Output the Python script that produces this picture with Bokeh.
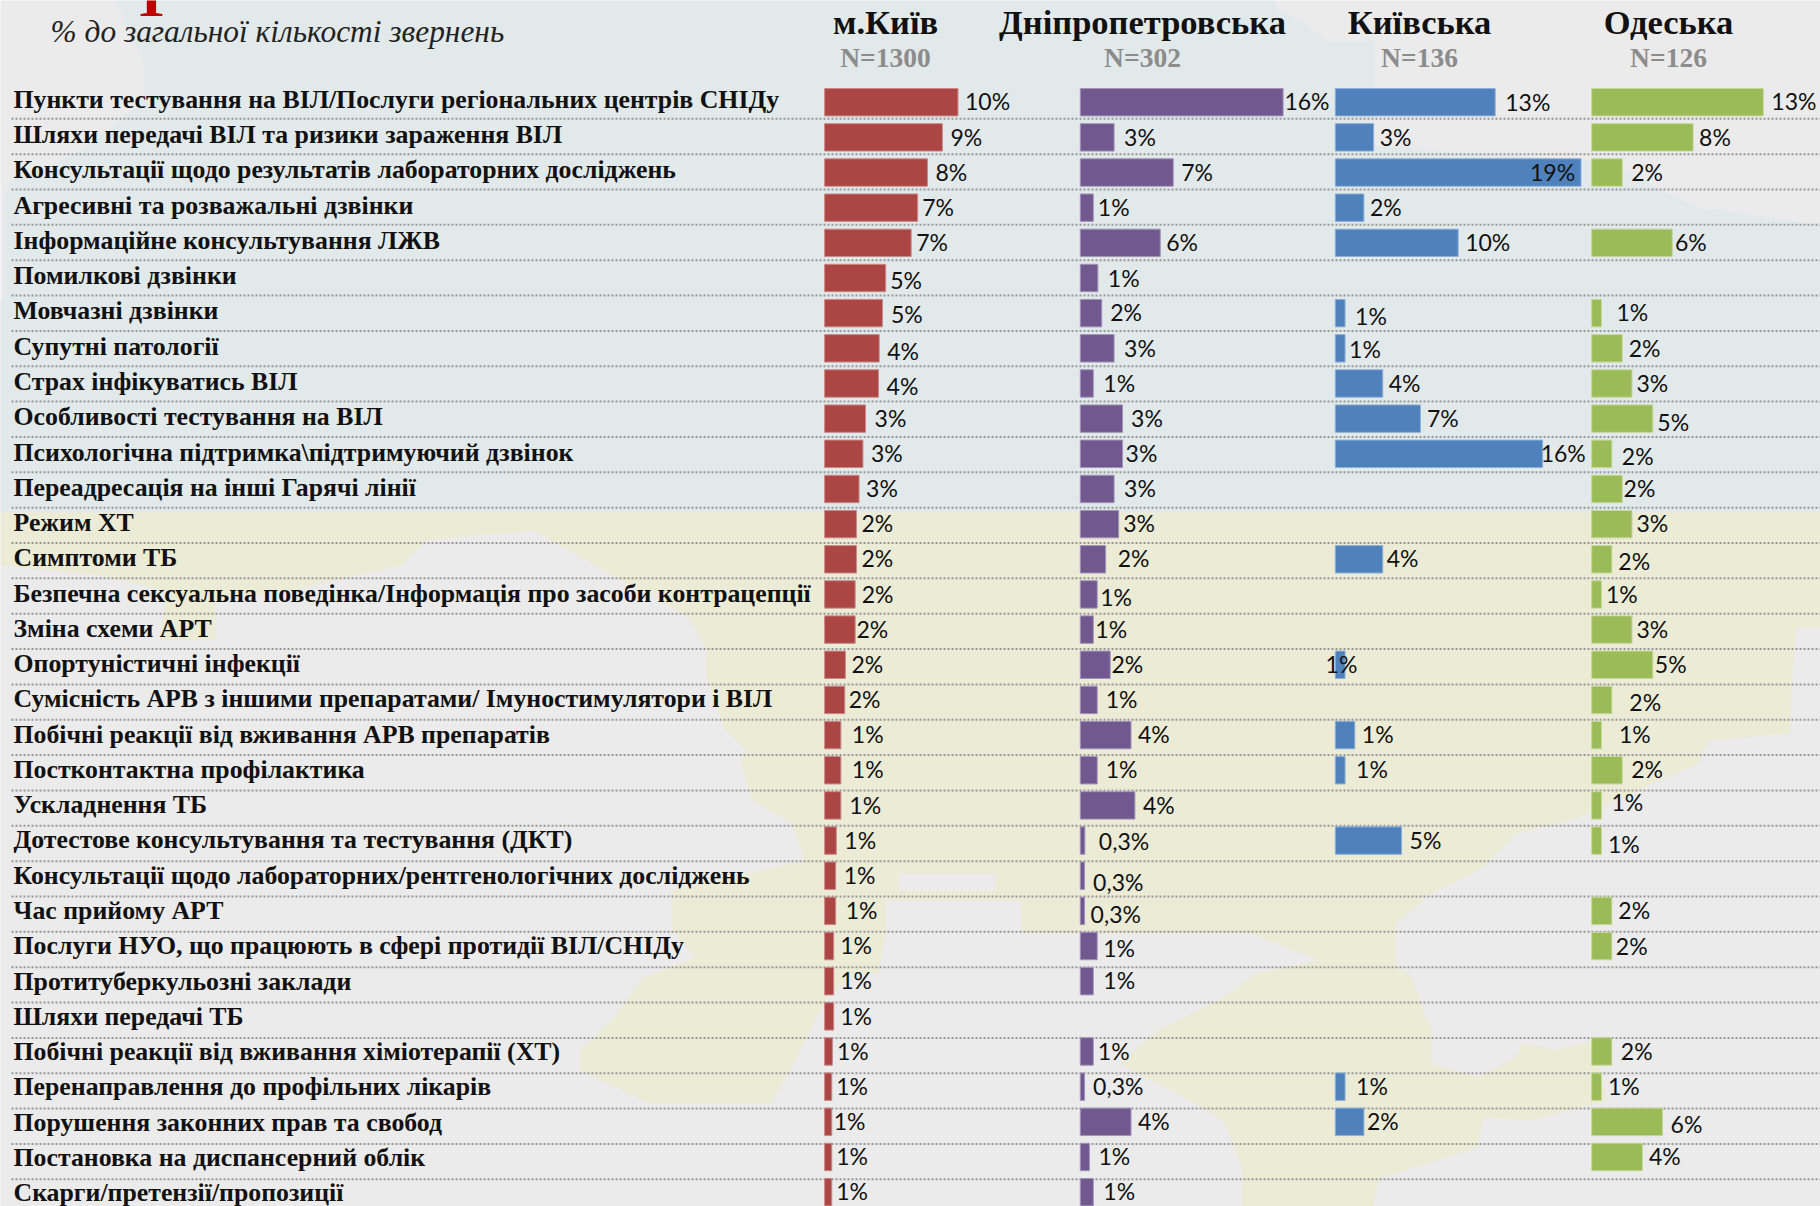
from bokeh.plotting import figure
from bokeh.models import Range1d, ColumnDataSource, LinearScale
from bokeh.core.properties import value
from bokeh.embed import file_html
from bokeh.resources import INLINE

topics = [
 "Пункти тестування на ВІЛ/Послуги регіональних центрів СНІДу","Шляхи передачі ВІЛ та ризики зараження ВІЛ",
 "Консультації щодо результатів лабораторних досліджень","Агресивні та розважальні дзвінки",
 "Інформаційне консультування ЛЖВ","Помилкові дзвінки","Мовчазні дзвінки","Супутні патології",
 "Страх інфікуватись ВІЛ","Особливості тестування на ВІЛ","Психологічна підтримка\\підтримуючий дзвінок",
 "Переадресація на інші Гарячі лінії","Режим ХТ","Симптоми ТБ",
 "Безпечна сексуальна поведінка/Інформація про засоби контрацепції","Зміна схеми АРТ","Опортуністичні інфекції",
 "Сумісність АРВ з іншими препаратами/ Імуностимулятори і ВІЛ","Побічні реакції від вживання АРВ препаратів",
 "Постконтактна профілактика","Ускладнення ТБ","Дотестове консультування та тестування (ДКТ)",
 "Консультації щодо лабораторних/рентгенологічних досліджень","Час прийому АРТ",
 "Послуги НУО, що працюють в сфері протидії ВІЛ/СНІДу","Протитуберкульозні заклади","Шляхи передачі ТБ",
 "Побічні реакції від вживання хіміотерапії (ХТ)","Перенаправлення до профільних лікарів",
 "Порушення законних прав та свобод","Постановка на диспансерний облік","Скарги/претензії/пропозиції"]

regions = ["м.Київ","Дніпропетровська","Київська","Одеська"]
sizes = ["N=1300","N=302","N=136","N=126"]

kyiv_city = [10.26,9.06,7.91,7.16,6.66,4.7,4.45,4.2,4.15,3.15,2.95,2.65,2.45,2.45,2.35,2.35,1.6,1.55,1.25,1.25,1.25,.9,.85,.85,.7,.7,.7,.6,.55,.55,.55,.55]
dnipro = [15.6,2.6,7.15,1.0,6.15,1.35,1.65,2.6,1.0,3.25,3.25,2.6,2.95,1.95,1.3,1.0,2.3,1.3,3.9,1.3,4.2,.35,.33,.33,1.3,1.0,None,1.0,.33,3.9,.7,1.0]
kyiv_obl = [12.3,2.95,18.9,2.2,9.45,None,.75,.75,3.65,6.55,15.95,None,None,3.65,None,None,.75,None,1.5,.75,None,5.1,None,None,None,None,None,None,.75,2.2,None,None]
odesa = [13.2,7.8,2.35,None,6.2,None,.75,2.35,3.1,4.7,1.55,2.35,3.1,1.55,.75,3.1,4.7,1.55,.75,2.35,.75,.75,None,1.55,1.55,None,None,1.55,.75,5.45,3.9,None]

kyiv_city_lab = ["10%","9%","8%","7%","7%","5%","5%","4%","4%","3%","3%","3%","2%","2%","2%","2%","2%","2%","1%","1%","1%","1%","1%","1%","1%","1%","1%","1%","1%","1%","1%","1%"]
dnipro_lab = ["16%","3%","7%","1%","6%","1%","2%","3%","1%","3%","3%","3%","3%","2%","1%","1%","2%","1%","4%","1%","4%","0,3%","0,3%","0,3%","1%","1%",None,"1%","0,3%","4%","1%","1%"]
kyiv_obl_lab = ["13%","3%","19%","2%","10%",None,"1%","1%","4%","7%","16%",None,None,"4%",None,None,"1%",None,"1%","1%",None,"5%",None,None,None,None,None,None,"1%","2%",None,None]
odesa_lab = ["13%","8%","2%",None,"6%",None,"1%","2%","3%","5%","2%","2%","3%","2%","1%","3%","5%","2%","1%","2%","1%","1%",None,"2%","2%",None,None,"2%","1%","6%","4%",None]

# --- layout only (pixels): where each value label sits relative to its bar end
gap = [
 [7,8,8,4.5,5,4.5,8.5,8,8,9,8,7,5,5,6.5,1.3,6,4,11,11,8.5,8,8,10,6.5,6.5,6.5,4.5,4.5,2,4.5,4.5],
 [1.3,10,8,4.5,6,10,8.5,10,10,8.5,3,10,4.5,12,3,2,1.3,8.5,7,8.5,8,14,8.5,6,6,10,0,4.5,8.5,7,9,10],
 [10,6,-51,6,7,0,10,4,6,6.5,-2,0,0,4,0,0,-19.5,0,7,11,0,8,0,0,0,0,0,0,11,3,0,0],
 [8,6,9,0,2.6,0,15,6.5,4.5,4.5,10,1.3,4.5,6.5,4.5,4.5,2,17.5,17.5,9,10,6.5,0,6.5,4,0,0,9,6.5,8,6.5,0],
]
dy_extra = [
 {5:3,6:2,7:3,8:3},
 {5:1,14:3.5,21:1,22:7,23:4,24:3},
 {0:1,6:4,7:1},
 {9:4,10:3,13:3,17:3,20:-3,21:4,24:1,29:3},
]

RED, PURPLE, BLUE, GREEN = "#AB4644", "#71588F", "#4F81BD", "#9BBB59"
colors = [RED, PURPLE, BLUE, GREEN]
lines = ["#c88a88", "#a294b8", "#8fb0d6", "#c4d89a"]
base_px = [824.1, 1079.8, 1334.8, 1591.2]
centers = [885, 1142, 1419, 1668]
PX_PER_PCT = 13.0
W, H = 1820, 1206
X0, Y0 = 0, 0
ROW0, PITCH = 101.7, 35.16
SEP0, SEP_PITCH = 118.3, 35.35     # separators run on a slightly wider pitch than the bars
LABEL_DRIFT = 0.11                 # so do the row names

p = figure(width=W, height=H, output_backend="svg", toolbar_location=None,
           x_range=Range1d(X0, X0 + W), y_range=Range1d(Y0 + H, Y0),
           min_border=0, outline_line_color=None,
           background_fill_color="#ebebeb", border_fill_color="#ebebeb")
p.xaxis.visible = False
p.yaxis.visible = False
p.xgrid.visible = False
p.ygrid.visible = False

p.extra_y_ranges["rows"] = Range1d((Y0 + H - ROW0) / PITCH, (Y0 - ROW0) / PITCH)
p.extra_y_scales["rows"] = LinearScale()
for k, b in enumerate(base_px):
    name = f"s{k}"
    p.extra_x_ranges[name] = Range1d((X0 - b) / PX_PER_PCT, (X0 + W - b) / PX_PER_PCT)
    p.extra_x_scales[name] = LinearScale()

# --- backdrop map (decoration)
blue_x = [115,120,135,143,143,80,50,10,3,3,0,0,1820,1820,1759,1700,1668,1600,1450,1374,1374,1326,1308,1275,1275]
blue_y = [0,12,45,60,100,150,165,180,200,300,300,512,512,225,215,207,193,160,152,145,40,40,25,8,0]
land_x = [0,1820,1820,1795,1789,1708,1698,1652,1580,1516,1483,1431,1395,1395,1411,1425,1431,1431,1477,1516,1522,1555,1594,1607,1529,1483,1477,1379,1372,1242,1242,1223,1177,1119,1158,1223,1255,1320,1250,1021,1021,885,885,878,852,825,790,770,649,580,580,614,643,695,672,672,804,792,752,740,746,723,706,706,689,608,534,425,400,290,215,215,160,165,100,0]
land_y = [512,512,627,627,733,740,763,783,817,833,867,893,923,965,977,1017,1027,1063,1077,1057,1043,1050,1040,1100,1120,1117,1147,1178,1206,1206,1167,1120,1093,1063,1030,997,973,960,933,933,900,900,933,973,973,1000,1070,1103,1103,1070,1050,1017,977,957,930,890,860,823,800,760,750,727,677,650,617,573,530,540,565,590,600,640,640,590,575,565]
p.patch(blue_x, blue_y, fill_color="#e1e9ea", line_color=None)
p.patch(land_x, land_y, fill_color="#ebebd6", line_color=None)
p.patch([898,995,995,898], [873,873,890,890], fill_color="#ebebeb", line_color=None)

# --- row separators
rows = list(range(len(topics)))
sep = ColumnDataSource(dict(y=[SEP0 + SEP_PITCH * r for r in rows]))
p.segment(x0=11, x1=X0 + W, y0="y", y1="y", source=sep,
          line_color="#969696", line_width=2, line_dash="2 2")

# --- row names
src = ColumnDataSource(dict(y=rows, t=topics, dy=[-2.9 + LABEL_DRIFT * r for r in rows]))
p.text(x=13, y="y", text="t", source=src, y_range_name="rows", y_offset="dy",
       text_font=value("Liberation Serif"), text_font_style="bold", text_font_size="25.8px",
       text_color="#111111", text_baseline="alphabetic", text_align="left")

# --- bars and value labels
series = [(kyiv_city, kyiv_city_lab), (dnipro, dnipro_lab), (kyiv_obl, kyiv_obl_lab), (odesa, odesa_lab)]
for k, (vals, labs) in enumerate(series):
    keep = [r for r in rows if vals[r] is not None]
    s = ColumnDataSource(dict(
        y=keep, v=[vals[r] for r in keep], zero=[0] * len(keep),
        t=[labs[r] for r in keep],
        dx=[gap[k][r] for r in keep],
        dy=[-0.8 + dy_extra[k].get(r, 0) for r in keep],
        top=[r - 0.39 for r in keep], bot=[r + 0.39 for r in keep]))
    p.quad(left="zero", right="v", top="top", bottom="bot", source=s,
           x_range_name=f"s{k}", y_range_name="rows",
           fill_color=colors[k], line_color=lines[k], line_width=1)
    p.text(x="v", y="y", text="t", source=s, x_range_name=f"s{k}", y_range_name="rows",
           x_offset="dx", y_offset="dy",
           text_font=value("Lato"), text_font_size="23px", text_color="#111111",
           text_baseline="alphabetic", text_align="left")

# --- headers
p.text(x=centers, y=[21] * 4, text=regions, text_font=value("Liberation Serif"),
       text_font_style="bold", text_font_size="34.5px", text_color="#111111",
       text_align="center", text_baseline="alphabetic")
p.text(x=centers, y=[57] * 4, text=sizes, text_font=value("Liberation Serif"),
       text_font_style="bold", text_font_size="27.5px", text_color="#8c8c8c",
       text_align="center", text_baseline="alphabetic")
p.text(x=[50], y=[31], text=["% до загальної кількості звернень"], text_font=value("Liberation Serif"),
       text_font_style="italic", text_font_size="31.4px", text_color="#222222",
       text_align="left", text_baseline="alphabetic")
p.text(x=[151], y=[-5], text=["Т"], text_font=value("Liberation Serif"),
       text_font_style="bold", text_font_size="60px", text_color="#c00000",
       text_align="center", text_baseline="alphabetic")

open("out.html", "w").write(file_html(p, INLINE))
